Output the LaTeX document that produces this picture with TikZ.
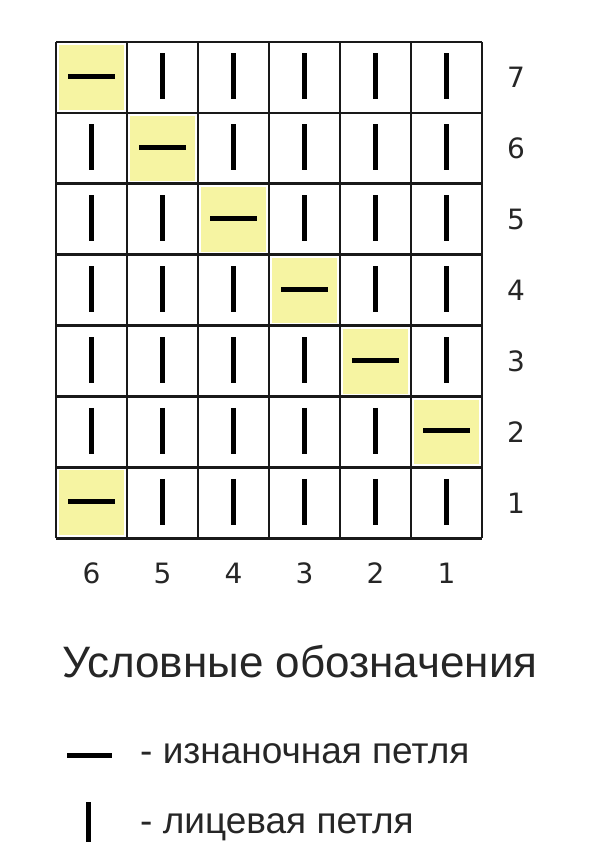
\documentclass[tikz,border=0pt]{standalone}
\usepackage{fontspec}
\setmainfont{Liberation Sans}
\newfontfamily\digitfont{DejaVu Sans}

\definecolor{purlfill}{RGB}{246,244,162}
\definecolor{gridink}{RGB}{25,25,25}

\tikzset{
  gridline/.style={line width=2.6pt, draw=gridink},
  stitch/.style={line width=5pt, draw=black},
  numlabel/.style={font=\digitfont\fontsize{28}{32}\selectfont, text=black!85, inner sep=0pt},
  legendtext/.style={font=\fontsize{37}{44}\selectfont, text=black!85, anchor=base west, inner sep=0pt},
}

\begin{document}
\begin{tikzpicture}[x=1pt, y=-1pt]
  \useasboundingbox (0,0) rectangle (600,842);

  \pgfmathtruncatemacro{\ncols}{6}
  \pgfmathtruncatemacro{\nrows}{7}
  \pgfmathsetmacro{\xzero}{56}
  \pgfmathsetmacro{\yzero}{42}
  \pgfmathsetmacro{\cw}{71}
  \pgfmathsetmacro{\ch}{70.9}
  \pgfmathsetmacro{\xend}{\xzero+\ncols*\cw}
  \pgfmathsetmacro{\yend}{\yzero+\nrows*\ch}

  % cells: purl on the diagonal and bottom left
  \foreach \i in {1,...,\ncols}{
    \foreach \j in {1,...,\nrows}{
      \pgfmathsetmacro{\cx}{\xzero+(\i-0.5)*\cw}
      \pgfmathsetmacro{\cy}{\yzero+(\j-0.5)*\ch}
      \pgfmathtruncatemacro{\purl}{(\i==\j)||((\i==1)&&(\j==\nrows))}
      \ifnum\purl=1
        \fill[purlfill] (\cx-\cw/2+3, \cy-\ch/2+3) rectangle (\cx+\cw/2-3, \cy+\ch/2-3);
        \draw[stitch] (\cx-23.5, \cy-1) -- (\cx+23.5, \cy-1);
      \else
        \draw[stitch] (\cx, \cy-24) -- (\cx, \cy+22);
      \fi
    }
  }

  % grid
  \foreach \i in {0,...,\ncols}{
    \pgfmathsetmacro{\x}{\xzero+\i*\cw}
    \draw[gridline] (\x, \yzero) -- (\x, \yend);
  }
  \foreach \j in {0,...,\nrows}{
    \pgfmathsetmacro{\y}{\yzero+\j*\ch}
    \draw[gridline] (\xzero, \y) -- (\xend, \y);
  }

  % row and column numbers
  \foreach \j in {1,...,\nrows}{
    \pgfmathsetmacro{\cy}{\yzero+(\j-0.5)*\ch}
    \pgfmathtruncatemacro{\r}{\nrows+1-\j}
    \node[numlabel] (row\r) at (516, \cy) {\r};
  }
  \foreach \i in {1,...,\ncols}{
    \pgfmathsetmacro{\cx}{\xzero+(\i-0.5)*\cw}
    \pgfmathtruncatemacro{\c}{\ncols+1-\i}
    \node[numlabel] (col\c) at (\cx, 573) {\c};
  }

  % legend
  \node[font=\fontsize{44}{50}\selectfont, text=black!85, anchor=base, inner sep=0pt]
    (legendtitle) at (300, 677) {Условные обозначения};
  \draw[stitch] (67, 755) -- (112, 755);
  \node[legendtext] (purltext) at (140, 763) {- изнаночная петля};
  \draw[stitch] (88, 802) -- (88, 848);
  \node[legendtext] (knittext) at (140, 833) {- лицевая петля};
\end{tikzpicture}
\end{document}
